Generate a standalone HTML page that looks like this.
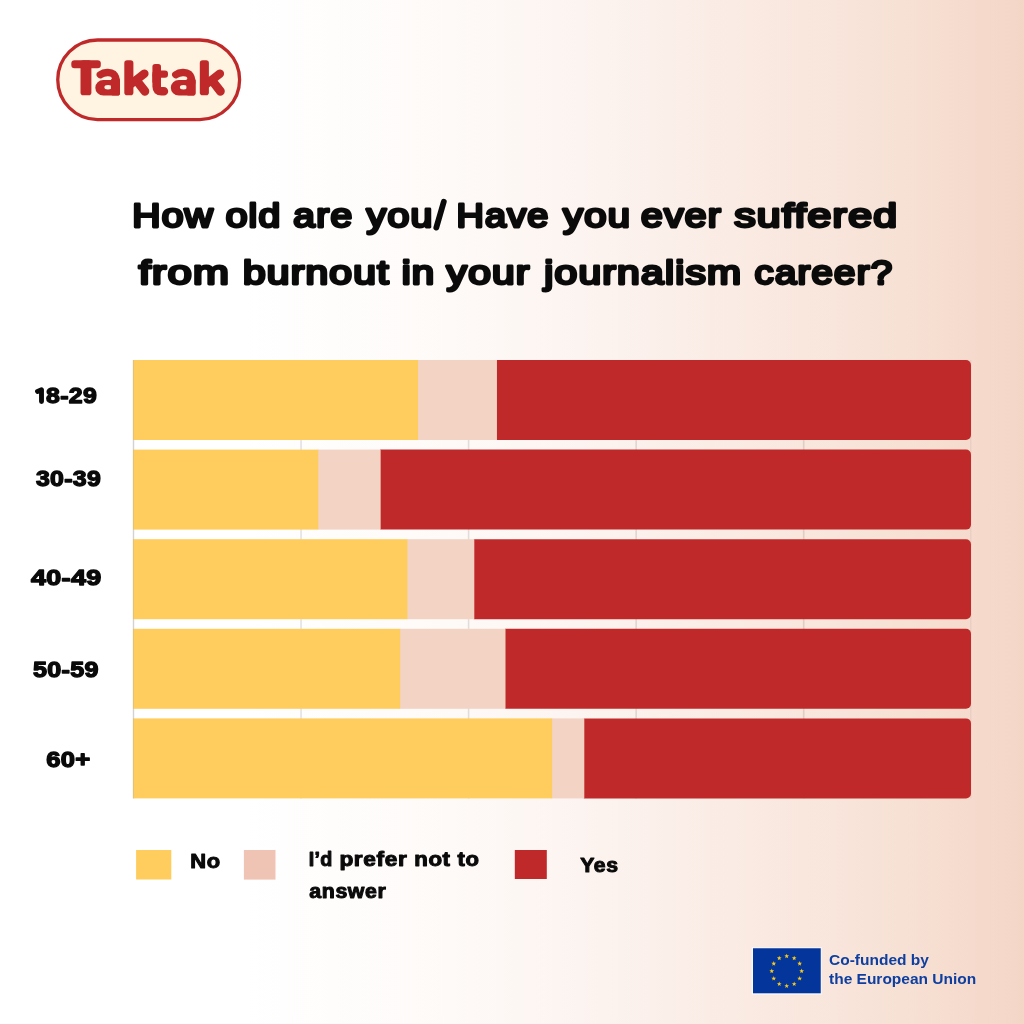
<!DOCTYPE html>
<html>
<head>
<meta charset="utf-8">
<title>Taktak - Burnout by age</title>
<style>
  html, body { margin: 0; padding: 0; }
  body { width: 1024px; height: 1024px; overflow: hidden; background: #fff; font-family: "Liberation Sans", sans-serif; }
  #page { position: relative; width: 1024px; height: 1024px; overflow: hidden;
    background: linear-gradient(90deg, #ffffff 0%, #ffffff 24%, #fefaf8 44%, #fcf3ef 58.6%, #f9e7de 78.1%, #f7e1d5 87.9%, #f4d6c7 100%); }
  svg { position: absolute; left: 0; top: 0; will-change: transform; }
  text { font-family: "Liberation Sans", sans-serif; font-weight: bold; }
  .title { font-weight: normal; font-size: 33.2px; fill: #0a0a0a; stroke: #0a0a0a; stroke-width: 2.8; stroke-linecap: round; stroke-linejoin: round; }
  .lab { font-weight: bold; font-size: 21.6px; fill: #0a0a0a; stroke: #0a0a0a; stroke-width: 1.3; stroke-linejoin: round; }
  .leg { font-weight: bold; font-size: 19.3px; fill: #0a0a0a; stroke: #0a0a0a; stroke-width: 1; stroke-linejoin: round; }
  .eu { font-size: 15.5px; fill: #0e3fa0; }
</style>
</head>
<body>
<div id="page">
<svg width="1024" height="1024" viewBox="0 0 1024 1024">
  <!-- logo -->
  <rect x="57.75" y="40" width="181.85" height="79.6" rx="39.8" ry="39.8" fill="#fef4e1" stroke="#c0292a" stroke-width="3.3"/>
  <g id="logo" fill="#c0292a" stroke="#c0292a" stroke-linecap="round" stroke-linejoin="round">
    <!-- T -->
    <rect x="71.3" y="60.3" width="29.5" height="7.9" rx="3.2" stroke="none"/>
    <rect x="80.5" y="60.3" width="10.9" height="34.9" rx="2.8" stroke="none"/>
    <g>
      <!-- a -->
      <path stroke="none" fill-rule="evenodd" d="M103.3 80 H120 V92.9 a2.7 2.7 0 0 1 -2.7 2.7 H103.3 a8 7.8 0 0 1 0 -15.6 Z M104.4 87.3 a3.6 2.25 0 1 0 7.2 0 a3.6 2.25 0 1 0 -7.2 0 Z"/>
      <path fill="none" stroke-width="7.4" d="M100.3 74.7 C104 72.1 110.6 71.7 113.6 74.2 C116 76.3 116.3 79 116.3 82.5"/>
      <rect x="110.9" y="78" width="9.1" height="17.6" rx="2.7" stroke="none"/>
      <!-- k -->
      <rect x="124.3" y="60.3" width="9.1" height="34.9" rx="2.8" stroke="none"/>
      <path fill="none" stroke-width="8.4" d="M131 84 L144.4 73.6"/>
      <path fill="none" stroke-width="8.8" d="M136.4 80.4 L144.9 91.3"/>
    </g>
    <!-- t -->
    <rect x="152.4" y="64" width="8.6" height="20" rx="2.8" stroke="none"/>
    <rect x="152.4" y="70.6" width="15.6" height="7.1" rx="3" stroke="none"/>
    <path fill="none" stroke-width="8.6" d="M156.7 76 V86.6 Q156.7 91.3 161.4 91.3 H163.9"/>
    <g transform="translate(75.5,0)">
      <!-- a -->
      <path stroke="none" fill-rule="evenodd" d="M103.3 80 H120 V92.9 a2.7 2.7 0 0 1 -2.7 2.7 H103.3 a8 7.8 0 0 1 0 -15.6 Z M104.4 87.3 a3.6 2.25 0 1 0 7.2 0 a3.6 2.25 0 1 0 -7.2 0 Z"/>
      <path fill="none" stroke-width="7.4" d="M100.3 74.7 C104 72.1 110.6 71.7 113.6 74.2 C116 76.3 116.3 79 116.3 82.5"/>
      <rect x="110.9" y="78" width="9.1" height="17.6" rx="2.7" stroke="none"/>
      <!-- k -->
      <rect x="124.3" y="60.3" width="9.1" height="34.9" rx="2.8" stroke="none"/>
      <path fill="none" stroke-width="8.4" d="M131 84 L144.4 73.6"/>
      <path fill="none" stroke-width="8.8" d="M136.4 80.4 L144.9 91.3"/>
    </g>
  </g>

  <!-- title -->
  <path id="slash" d="M436.3 227.6 L443.8 201.7" fill="none" stroke="#0a0a0a" stroke-width="5.8" stroke-linecap="round"/>
  <!-- FIT-BEGIN -->
  <text class="title" transform="translate(132.32,227.1) scale(1.178,1)" textLength="68.23" lengthAdjust="spacing">How</text>
  <text class="title" transform="translate(225.73,227.1) scale(1.178,1)" textLength="46.23" lengthAdjust="spacing">old</text>
  <text class="title" transform="translate(293.25,227.1) scale(1.172,1)" textLength="50.15" lengthAdjust="spacing">are</text>
  <text class="title" transform="translate(366.61,227.1) scale(1.183,1)" textLength="55.56" lengthAdjust="spacing">you</text>
  <text class="title" transform="translate(456.38,227.1) scale(1.142,1)" textLength="80.54" lengthAdjust="spacing">Have</text>
  <text class="title" transform="translate(562.96,227.1) scale(1.203,1)" textLength="55.79" lengthAdjust="spacing">you</text>
  <text class="title" transform="translate(640.89,227.1) scale(1.179,1)" textLength="67.76" lengthAdjust="spacing">ever</text>
  <text class="title" transform="translate(734.18,227.1) scale(1.288,1)" textLength="126.44" lengthAdjust="spacing">suffered</text>
  <text class="title" transform="translate(138.82,283.7) scale(1.296,1)" textLength="69.43" lengthAdjust="spacing">from</text>
  <text class="title" transform="translate(242.89,283.7) scale(1.229,1)" textLength="118.48" lengthAdjust="spacing">burnout</text>
  <text class="title" transform="translate(401.67,283.7) scale(1.213,1)" textLength="26.75" lengthAdjust="spacing">in</text>
  <text class="title" transform="translate(446.60,283.7) scale(1.225,1)" textLength="67.54" lengthAdjust="spacing">your</text>
  <text class="title" transform="translate(544.25,283.7) scale(1.228,1)" textLength="160.22" lengthAdjust="spacing">journalism</text>
  <text class="title" transform="translate(754.56,283.7) scale(1.157,1)" textLength="118.79" lengthAdjust="spacing">career?</text>
  <text class="lab" transform="translate(46.11,403.3) scale(1.152,1)" textLength="44.03" lengthAdjust="spacing">8-29</text>
  <text class="lab" transform="translate(35.89,485.8) scale(1.151,1)" textLength="56.36" lengthAdjust="spacing">30-39</text>
  <text class="lab" transform="translate(30.89,585.1) scale(1.249,1)" textLength="56.41" lengthAdjust="spacing">40-49</text>
  <text class="lab" transform="translate(33.07,677.4) scale(1.164,1)" textLength="56.26" lengthAdjust="spacing">50-59</text>
  <text class="lab" transform="translate(46.13,766.7) scale(1.183,1)" textLength="37.25" lengthAdjust="spacing">60+</text>
  <text class="leg" transform="translate(190.16,868.1) scale(1.134,1)" textLength="26.39" lengthAdjust="spacing">No</text>
  <text class="leg" transform="translate(308.72,866.0) scale(1.021,1)" textLength="23.17" lengthAdjust="spacing">I’d</text>
  <text class="leg" transform="translate(339.40,866.0) scale(1.176,1)" textLength="57.34" lengthAdjust="spacing">prefer</text>
  <text class="leg" transform="translate(414.37,866.0) scale(1.154,1)" textLength="30.89" lengthAdjust="spacing">not</text>
  <text class="leg" transform="translate(457.62,866.0) scale(1.142,1)" textLength="18.74" lengthAdjust="spacing">to</text>
  <text class="leg" transform="translate(309.34,898.3) scale(1.106,1)" textLength="69.08" lengthAdjust="spacing">answer</text>
  <text class="leg" transform="translate(580.13,872.3) scale(1.101,1)" textLength="34.35" lengthAdjust="spacing">Yes</text>
  <!-- FIT-END -->

  <!-- gridlines -->
  <g stroke="#1a1a22" stroke-opacity="0.12" stroke-width="1.6">
    <line x1="133.50" y1="360" x2="133.50" y2="798.4"/>
    <line x1="301.05" y1="360" x2="301.05" y2="798.4"/>
    <line x1="468.60" y1="360" x2="468.60" y2="798.4"/>
    <line x1="636.15" y1="360" x2="636.15" y2="798.4"/>
    <line x1="803.70" y1="360" x2="803.70" y2="798.4"/>
    <line x1="970.8" y1="360" x2="970.8" y2="798.4" stroke-width="1" stroke-opacity="0.08"/>
  </g>
  
  <!-- bars -->
  <g id="bars">
    <path d="M496.4 360 H966.0 a5 5 0 0 1 5 5 V435.0 a5 5 0 0 1 -5 5 H496.4 Z" fill="#c02929"/>
    <rect x="417.55" y="360" width="79.35" height="80" fill="#f3d3c4"/>
    <rect x="133.1" y="360" width="284.95" height="80" fill="#ffcc5e"/>
    <path d="M380.1 449.6 H966.0 a5 5 0 0 1 5 5 V524.6 a5 5 0 0 1 -5 5 H380.1 Z" fill="#c02929"/>
    <rect x="317.8" y="449.6" width="62.80" height="80" fill="#f3d3c4"/>
    <rect x="133.1" y="449.6" width="185.20" height="80" fill="#ffcc5e"/>
    <path d="M473.8 539.2 H966.0 a5 5 0 0 1 5 5 V614.2 a5 5 0 0 1 -5 5 H473.8 Z" fill="#c02929"/>
    <rect x="406.9" y="539.2" width="67.40" height="80" fill="#f3d3c4"/>
    <rect x="133.1" y="539.2" width="274.30" height="80" fill="#ffcc5e"/>
    <path d="M505.0 628.8 H966.0 a5 5 0 0 1 5 5 V703.8 a5 5 0 0 1 -5 5 H505.0 Z" fill="#c02929"/>
    <rect x="399.7" y="628.8" width="105.80" height="80" fill="#f3d3c4"/>
    <rect x="133.1" y="628.8" width="267.10" height="80" fill="#ffcc5e"/>
    <path d="M583.8 718.4 H966.0 a5 5 0 0 1 5 5 V793.4 a5 5 0 0 1 -5 5 H583.8 Z" fill="#c02929"/>
    <rect x="551.6" y="718.4" width="32.70" height="80" fill="#f3d3c4"/>
    <rect x="133.1" y="718.4" width="419.00" height="80" fill="#ffcc5e"/>
  </g>
  <line x1="133.5" y1="360" x2="133.5" y2="798.4" stroke="#8a8a8a" stroke-opacity="0.22" stroke-width="0.9"/>
  
  <!-- category labels -->
  <path id="one" d="M37.5 391.4 L41.5 389.7 V401.5" fill="none" stroke="#0a0a0a" stroke-width="4.9" stroke-linecap="round" stroke-linejoin="round"/>

  <!-- legend -->
  <rect x="136.1" y="850" width="35.2" height="29.5" fill="#ffcc5e"/>
  <rect x="243.9" y="850" width="31.6" height="29.6" fill="#efc4b5"/>
  <rect x="514.8" y="850" width="32" height="29" fill="#c02929"/>

  <!-- EU -->
  <rect x="752.4" y="947.7" width="68.9" height="46.2" fill="#04359b" stroke="#ffffff" stroke-width="1.1"/>
  <g id="stars" fill="#f8cb1c">
    <polygon points="786.70,953.65 787.32,955.30 789.08,955.38 787.70,956.47 788.17,958.17 786.70,957.20 785.23,958.17 785.70,956.47 784.32,955.38 786.08,955.30"/>
    <polygon points="794.18,955.65 794.79,957.30 796.55,957.38 795.17,958.48 795.64,960.18 794.18,959.20 792.71,960.18 793.18,958.48 791.80,957.38 793.56,957.30"/>
    <polygon points="799.65,961.12 800.26,962.78 802.02,962.85 800.65,963.95 801.12,965.65 799.65,964.67 798.18,965.65 798.65,963.95 797.27,962.85 799.03,962.78"/>
    <polygon points="801.65,968.60 802.27,970.25 804.03,970.33 802.65,971.42 803.12,973.12 801.65,972.15 800.18,973.12 800.65,971.42 799.27,970.33 801.03,970.25"/>
    <polygon points="799.65,976.08 800.26,977.73 802.02,977.80 800.65,978.90 801.12,980.60 799.65,979.62 798.18,980.60 798.65,978.90 797.27,977.80 799.03,977.73"/>
    <polygon points="794.18,981.55 794.79,983.20 796.55,983.27 795.17,984.37 795.64,986.07 794.18,985.10 792.71,986.07 793.18,984.37 791.80,983.27 793.56,983.20"/>
    <polygon points="786.70,983.55 787.32,985.20 789.08,985.28 787.70,986.37 788.17,988.07 786.70,987.10 785.23,988.07 785.70,986.37 784.32,985.28 786.08,985.20"/>
    <polygon points="779.23,981.55 779.84,983.20 781.60,983.27 780.22,984.37 780.69,986.07 779.23,985.10 777.76,986.07 778.23,984.37 776.85,983.27 778.61,983.20"/>
    <polygon points="773.75,976.08 774.37,977.73 776.13,977.80 774.75,978.90 775.22,980.60 773.75,979.62 772.28,980.60 772.75,978.90 771.38,977.80 773.14,977.73"/>
    <polygon points="771.75,968.60 772.37,970.25 774.13,970.33 772.75,971.42 773.22,973.12 771.75,972.15 770.28,973.12 770.75,971.42 769.37,970.33 771.13,970.25"/>
    <polygon points="773.75,961.12 774.37,962.78 776.13,962.85 774.75,963.95 775.22,965.65 773.75,964.67 772.28,965.65 772.75,963.95 771.38,962.85 773.14,962.78"/>
    <polygon points="779.23,955.65 779.84,957.30 781.60,957.38 780.22,958.48 780.69,960.18 779.23,959.20 777.76,960.18 778.23,958.48 776.85,957.38 778.61,957.30"/>
  </g>
  <text class="eu" x="829" y="964.9">Co-funded by</text>
  <text class="eu" x="829" y="984">the European Union</text>
</svg>
</div>
</body>
</html>
